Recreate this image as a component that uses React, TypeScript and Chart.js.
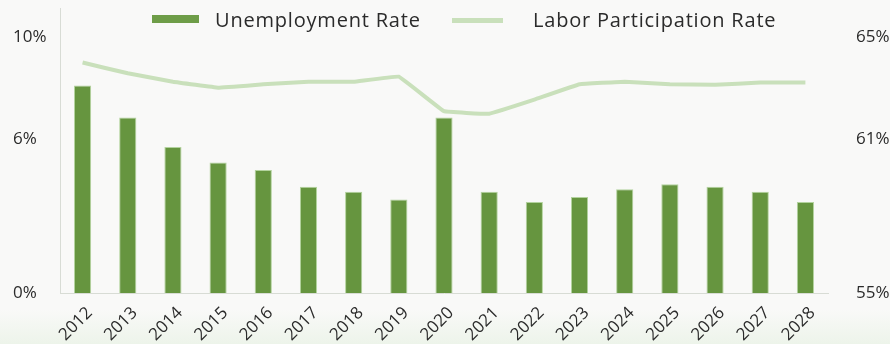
import React, { useEffect, useRef } from "react";
import { Chart, registerables } from "chart.js";

Chart.register(...registerables);

const years = ["2012", "2013", "2014", "2015", "2016", "2017", "2018", "2019", "2020", "2021", "2022", "2023", "2024", "2025", "2026", "2027", "2028"];
const unemploymentRate = [8.1, 6.85, 5.7, 5.1, 4.8, 4.15, 3.95, 3.65, 6.85, 3.95, 3.55, 3.75, 4.05, 4.25, 4.15, 3.95, 3.55];
const laborParticipationRate = [64.0, 63.58, 63.25, 63.02, 63.15, 63.25, 63.25, 63.45, 62.1, 62.0, 62.55, 63.15, 63.25, 63.15, 63.13, 63.22, 63.22];
const leftTicks = [0, 6, 10];
const rightTicks = [55, 61, 65];

const FONT = "'Open Sans', 'Noto Sans', sans-serif";
const BAR_COLOR = "#66953f";
const LINE_COLOR = "#c9e0bb";
const TEXT_COLOR = "#2b2b2b";
const AXIS_COLOR = "#d8dcd5";

const zeroPad = (s: any) => {
  s.paddingTop = 0;
  s.paddingBottom = 0;
  s.paddingLeft = 0;
  s.paddingRight = 0;
};

export default function App() {
  const canvasRef = useRef<HTMLCanvasElement | null>(null);

  useEffect(() => {
    if (!canvasRef.current) return;
    const chart = new Chart(canvasRef.current, {
      data: {
        labels: years,
        datasets: [
          {
            type: "line",
            label: "Labor Participation Rate",
            data: laborParticipationRate,
            yAxisID: "y1",
            borderColor: LINE_COLOR,
            borderWidth: 4,
            pointRadius: 0,
            tension: 0.05,
            borderJoinStyle: "round",
            order: 0,
          },
          {
            type: "bar",
            label: "Unemployment Rate",
            data: unemploymentRate,
            yAxisID: "y",
            backgroundColor: BAR_COLOR,
            borderColor: "rgba(150,195,120,0.7)",
            borderWidth: 1,
            barPercentage: 0.38,
            categoryPercentage: 1,
            order: 1,
          },
        ],
      } as any,
      options: {
        animation: false,
        responsive: true,
        maintainAspectRatio: false,
        layout: { padding: { left: 13, top: 8, right: 0, bottom: 0 } },
        plugins: { legend: { display: false }, tooltip: { enabled: false } },
        scales: {
          x: {
            grid: { display: false },
            border: { display: true, color: AXIS_COLOR, width: 1 },
            ticks: {
              autoSkip: false,
              maxRotation: 45,
              minRotation: 45,
              padding: 2,
              labelOffset: 7,
              color: TEXT_COLOR,
              font: { family: FONT, size: 17 },
            },
            afterFit: (s: any) => {
              s.height = 51;
              zeroPad(s);
            },
          },
          y: {
            position: "left",
            min: 0,
            max: 11.13,
            grid: { display: false },
            border: { display: true, color: AXIS_COLOR, width: 1 },
            afterBuildTicks: (s: any) => {
              s.ticks = leftTicks.map((v) => ({ value: v }));
            },
            ticks: {
              crossAlign: "far",
              padding: 0,
              color: TEXT_COLOR,
              font: { family: FONT, size: 17 },
              callback: (v: any) => v + "%",
            },
            afterFit: (s: any) => {
              s.width = 47;
              zeroPad(s);
            },
          },
          y1: {
            position: "right",
            min: 55,
            max: 66.13,
            grid: { display: false },
            border: { display: false },
            afterBuildTicks: (s: any) => {
              s.ticks = rightTicks.map((v) => ({ value: v }));
            },
            ticks: {
              padding: 20,
              color: TEXT_COLOR,
              font: { family: FONT, size: 17 },
              callback: (v: any) => v + "%",
            },
            afterFit: (s: any) => {
              s.width = 62;
              zeroPad(s);
            },
          },
        },
      } as any,
    });
    return () => chart.destroy();
  }, []);

  const legendText: React.CSSProperties = {
    position: "absolute",
    top: 8,
    fontSize: 20,
    letterSpacing: "0.8px",
    color: TEXT_COLOR,
    lineHeight: "24px",
    whiteSpace: "nowrap",
  };

  return (
    <div
      style={{
        position: "absolute",
        left: 0,
        top: 0,
        width: 890,
        height: 344,
        background: "linear-gradient(to bottom, #f9f9f8 0%, #f9f9f8 90%, #edf4ea 100%)",
        fontFamily: FONT,
      }}
    >
      <canvas ref={canvasRef} />
      <div style={{ position: "absolute", left: 152, top: 15, width: 47, height: 8, background: "#6e9d48" }} />
      <div style={{ ...legendText, left: 215 }}>Unemployment Rate</div>
      <div style={{ position: "absolute", left: 452, top: 18, width: 51, height: 5, background: LINE_COLOR }} />
      <div style={{ ...legendText, left: 533 }}>Labor Participation Rate</div>
    </div>
  );
}
